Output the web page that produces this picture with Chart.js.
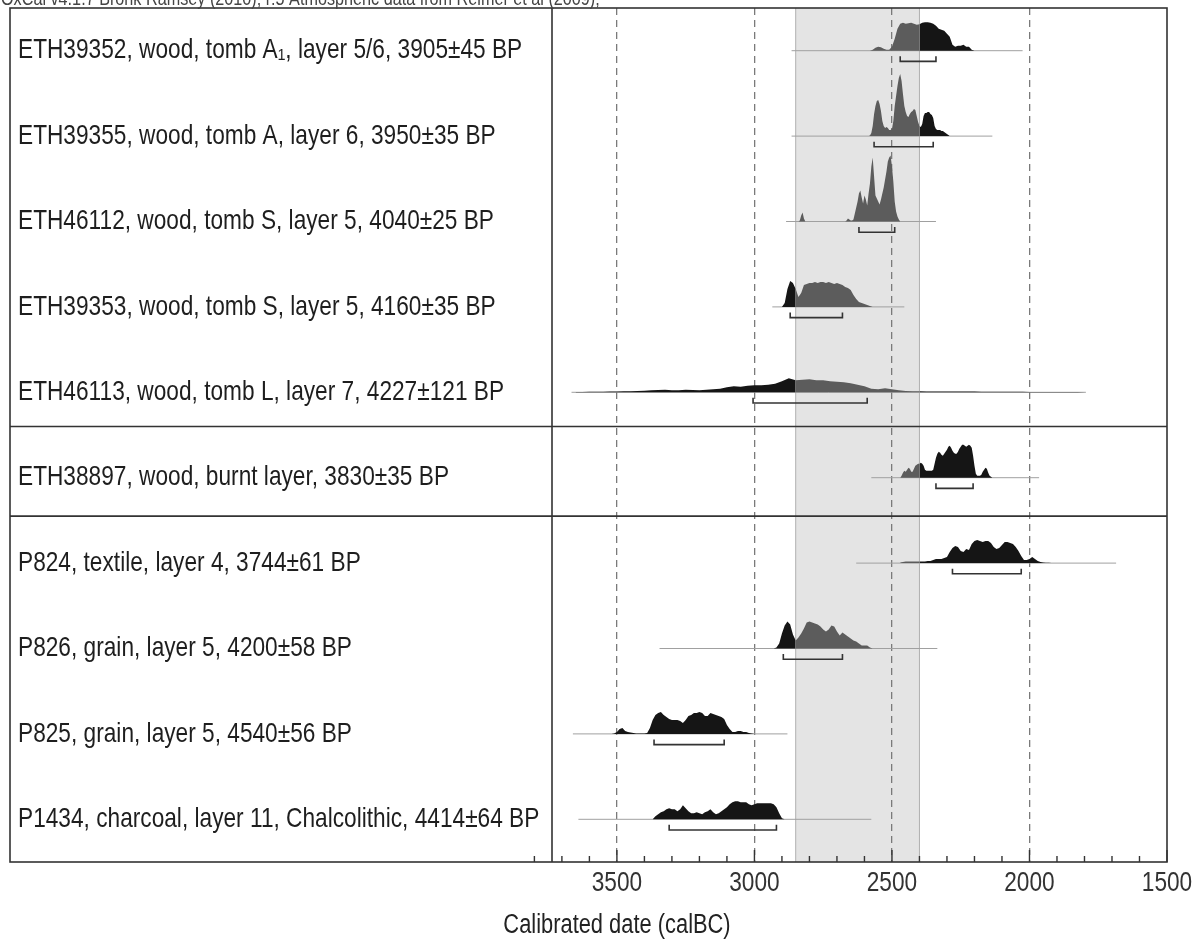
<!DOCTYPE html>
<html>
<head>
<meta charset="utf-8">
<script src="https://cdn.jsdelivr.net/npm/chart.js@4.4.1/dist/chart.umd.min.js"></script>
<style>
  html, body { margin: 0; padding: 0; background: #fff; }
</style>
</head>
<body>
<canvas id="oxcalChart" width="1199" height="947"></canvas>
<script>
// sample labels, top to bottom
const sampleLabels = [
  "ETH39352, wood, tomb A\u2081, layer 5/6, 3905\u00b145 BP",
  "ETH39355, wood, tomb A, layer 6, 3950\u00b135 BP",
  "ETH46112, wood, tomb S, layer 5, 4040\u00b125 BP",
  "ETH39353, wood, tomb S, layer 5, 4160\u00b135 BP",
  "ETH46113, wood, tomb L, layer 7, 4227\u00b1121 BP",
  "ETH38897, wood, burnt layer, 3830\u00b135 BP",
  "P824, textile, layer 4, 3744\u00b161 BP",
  "P826, grain, layer 5, 4200\u00b158 BP",
  "P825, grain, layer 5, 4540\u00b156 BP",
  "P1434, charcoal, layer 11, Chalcolithic, 4414\u00b164 BP"
];

// extent of each calibrated curve (calBC)
const curveFrom = [2865, 2865, 2885, 2935, 3665, 2575, 2630, 3345, 3660, 3640];
const curveTo   = [2025, 2135, 2340, 2455, 1795, 1965, 1685, 2335, 2880, 2575];

// 68% ranges (brackets)
const rangeFrom = [2470, 2565, 2620, 2870, 3005, 2340, 2280, 2895, 3365, 3310];
const rangeTo   = [2340, 2350, 2490, 2680, 2590, 2205, 2030, 2680, 3110, 2920];

// shaded period
const bandFrom = 2850;
const bandTo = 2400;

// x axis (calBC, drawn reversed)
const axisLow = 1500;
const axisHigh = 3736;
const majorEvery = 500;
const groupBreaks = [5.4, 6.45];

// probability densities (relative), first year and step of each
const densStart = [2580, 2585, 2840, 2900, 3650, 2470, 2470, 2930, 3520, 3370];
const densStep  = [10, 5, 5, 10, 25, 5, 10, 10, 10, 10];

const eth39352 = [0,1,3,4,3.5,2,1,1,4,12,22,27,28,27,27.5,28,27,26,26.5,28,28.5,28.5,28,27,25,22,21,20,17,14,6,4,5,5,6,4,4,1,0];
const eth39355 = [0,0.5,3,10,22,30,35,36,32,25,15,10,8,9,8,6,6,7,15,30,40,50,58,62,55,42,30,24,20,19,22,24,25,27,26,20,14,10,9,12,20,23,23,24,24,22,21,18,10,7,6,6,6,5,5,4,3,2,1,0];
const eth46112 = [0,1,6,9,3,0,
  0,0,0,0,0,0,0,0,0,0,0,0,0,0,0,0,0,0,0,0,0,0,0,0,0,0,0,0,0,
  1,3,2,1,1,2,8,14,20,28,31,24,18,26,22,16,28,38,55,64,45,26,23,20,17,22,28,34,42,50,60,64,66,55,40,20,10,5,2,0];
const eth39353 = [0,4,18,26,24,18,10,14,22,23,24,24,25,24,25,25,24,25,24,23,24,23,22,20,19,17,12,8,5,4,3,2,1,0];
const eth46113 = [0.2,0.3,0.5,0.5,0.6,0.7,0.8,1,1.1,1.2,1.5,2,2.2,2.5,2,2,2.5,2.2,2,2.5,3,3.5,5,6,5.5,6.5,7,7,7.5,8.5,
  11,14,12,12.5,13,12,12,11,10.5,10,9,7.5,6,3.5,3,4,3,2,1.3,1.1,1,0.9,0.9,0.8,0.8,0.8,0.7,0.7,0.7,0.6,
  0.6,0.6,0.5,0.5,0.5,0.5,0.4,0.4,0.4,0.3,0.3,0.3,0.2,0.2,0.1];
const eth38897 = [0,2,5,7,6,8,10,9,6,6,9,12,13,14,14,15,14,12,8,7,7,7,7,7,8,14,20,24,26,25,23,22,24,26,28,31,32,30,27,25,24,24,26,29,31,33,33,32,31,32,33,32,30,22,12,4,2,2,2,3,6,8,10,9,5,2,1,0];
const p824 = [0.5,1,1.5,1.5,1.5,1.5,1.5,1.5,1.5,1.5,2,2,3,4,4,4,5,6,11,15,17,16,12,11,14,13,19,22,23,22,21,22,22,20,16,14,15,18,21,21,20,19,16,12,7,3,3,4,6,4,2,1,0.5,0.4,0.3,0.2,0.1,0];
const p826 = [0,1,5,15,23,27,24,14,8,11,15,20,26,27,26,25,24,22,19,17,19,23,22,17,13,16,14,12,10,8,7,5,3,3,3,1,0];
const p825 = [0,0.5,2,5,6,3,2,1.5,1,0.5,0.3,0.3,0.3,1,6,14,19,21,22,19,17,15,14,14,14,13,11,14,18,19,21,21,22,21,18,18,21,20,19,18,17,15,9,5,2,2,3,3,2,2,1,0.5,0];
const p1434 = [0,3,5,7,8,10,11,10,10,8,10,14,11,8,6,6,7,6,5,7,8,10,7,5,6,8,10,12,15,17,18,18,17,17,17,15,14,15,16,16,16,16,16,16,15,12,6,1,0];

const densities = [eth39352, eth39355, eth46112, eth39353, eth46113, eth38897, p824, p826, p825, p1434];

const FONT = '"Liberation Sans", Arial, sans-serif';
const SQUEEZE = 0.81; // the figure is horizontally compressed
const DENS_SCALE = 1 / 85.4; // row units per density unit
const BLACK = '#151515';
const GREY = '#5c5c5c';

const rows = sampleLabels.map((_, i) => i + 1);
const inBand = c => c.p0.parsed.x <= bandFrom && c.p1.parsed.x >= bandTo;

const datasets = [];
densities.forEach((dens, i) => {
  const row = i + 1;
  datasets.push({
    data: dens.map((v, k) => ({ x: densStart[i] - k * densStep[i], y: row - v * DENS_SCALE })),
    borderWidth: 0,
    pointRadius: 0,
    backgroundColor: BLACK,
    fill: { value: row },
    segment: { backgroundColor: c => (inBand(c) ? GREY : BLACK) },
    order: 1
  });
  datasets.push({
    data: [{ x: curveFrom[i], y: row }, { x: curveTo[i], y: row }],
    borderColor: '#a0a0a0',
    borderWidth: 1,
    pointRadius: 0,
    fill: false,
    order: 2
  });
  datasets.push({
    data: [
      { x: rangeFrom[i], y: row + 0.065 },
      { x: rangeFrom[i], y: row + 0.125 },
      { x: rangeTo[i], y: row + 0.125 },
      { x: rangeTo[i], y: row + 0.065 }
    ],
    borderColor: '#333',
    borderWidth: 1.6,
    pointRadius: 0,
    fill: false,
    order: 0
  });
});

// text in the compressed face, anchored at (x, y)
function narrowText(ctx, text, x, y, size, align, color, baseline) {
  ctx.save();
  ctx.font = size + 'px ' + FONT;
  ctx.fillStyle = color;
  ctx.textAlign = align;
  ctx.textBaseline = baseline || 'middle';
  ctx.translate(x, y);
  ctx.scale(SQUEEZE, 1);
  ctx.fillText(text, 0, 0);
  ctx.restore();
}

const frame = {
  id: 'oxcalFrame',
  beforeDraw(chart) {
    const { ctx, chartArea: a, scales: { x } } = chart;
    ctx.save();
    ctx.fillStyle = '#fff';
    ctx.fillRect(0, 0, chart.width, chart.height);
    const x1 = x.getPixelForValue(bandFrom), x2 = x.getPixelForValue(bandTo);
    ctx.fillStyle = '#e4e4e4';
    ctx.fillRect(x1, a.top, x2 - x1, a.bottom - a.top);
    ctx.strokeStyle = '#b0b0b0';
    ctx.lineWidth = 1;
    ctx.beginPath();
    ctx.moveTo(x1, a.top); ctx.lineTo(x1, a.bottom);
    ctx.moveTo(x2, a.top); ctx.lineTo(x2, a.bottom);
    ctx.stroke();
    ctx.restore();
  },
  afterDraw(chart) {
    const { ctx, chartArea: a, scales: { x, y } } = chart;
    const left = 10;
    ctx.save();
    ctx.strokeStyle = '#333';
    ctx.lineWidth = 1.6;
    ctx.strokeRect(left, a.top, a.right - left, a.bottom - a.top);
    ctx.beginPath();
    ctx.moveTo(a.left, a.top); ctx.lineTo(a.left, a.bottom);
    groupBreaks.forEach(g => {
      const py = y.getPixelForValue(g);
      ctx.moveTo(left, py); ctx.lineTo(a.right, py);
    });
    ctx.stroke();
    // inward tick marks
    ctx.lineWidth = 1.4;
    ctx.beginPath();
    for (let v = 3800; v >= axisLow; v -= 100) {
      const px = x.getPixelForValue(v);
      const len = v % majorEvery === 0 ? 12 : 6;
      ctx.moveTo(px, a.bottom); ctx.lineTo(px, a.bottom - len);
    }
    ctx.stroke();
    ctx.restore();

    // sample labels
    rows.forEach(r => narrowText(ctx, sampleLabels[r - 1], 18, y.getPixelForValue(r), 28, 'left', '#1e1e1e'));
    // x tick labels
    x.ticks.forEach(t => {
      if (t.value % majorEvery === 0) narrowText(ctx, String(t.value), x.getPixelForValue(t.value), a.bottom + 21, 28, 'center', '#333');
    });
    narrowText(ctx, 'Calibrated date (calBC)', 617, 926, 27, 'center', '#222');
    narrowText(ctx, 'OxCal v4.1.7 Bronk Ramsey (2010); r:5 Atmospheric data from Reimer et al (2009);', 1, 5, 20, 'left', '#444', 'alphabetic');
  }
};

new Chart(document.getElementById('oxcalChart'), {
  type: 'line',
  data: { datasets },
  options: {
    responsive: false,
    animation: false,
    devicePixelRatio: 1,
    events: [],
    layout: { padding: { left: 18, right: 32, top: 8, bottom: 0 } },
    elements: { line: { tension: 0 } },
    plugins: { legend: { display: false }, tooltip: { enabled: false } },
    scales: {
      x: {
        type: 'linear',
        reverse: true,
        min: axisLow,
        max: axisHigh,
        afterFit: s => { s.height = 85; },
        ticks: {
          display: false,
          stepSize: 100,
          includeBounds: false,
          autoSkip: false
        },
        grid: {
          drawTicks: false,
          lineWidth: 1.3,
          color: c => (c.tick && c.tick.value % majorEvery === 0 && c.tick.value !== axisLow ? '#7a7a7a' : 'transparent')
        },
        border: { display: false, dash: [7, 5] }
      },
      y: {
        type: 'linear',
        reverse: true,
        min: 0.5,
        max: 10.5,
        afterBuildTicks: s => { s.ticks = rows.map(v => ({ value: v })); },
        afterFit: s => { s.width = 534; },
        ticks: { display: false },
        grid: { display: false },
        border: { display: false }
      }
    }
  },
  plugins: [frame]
});
</script>
</body>
</html>
